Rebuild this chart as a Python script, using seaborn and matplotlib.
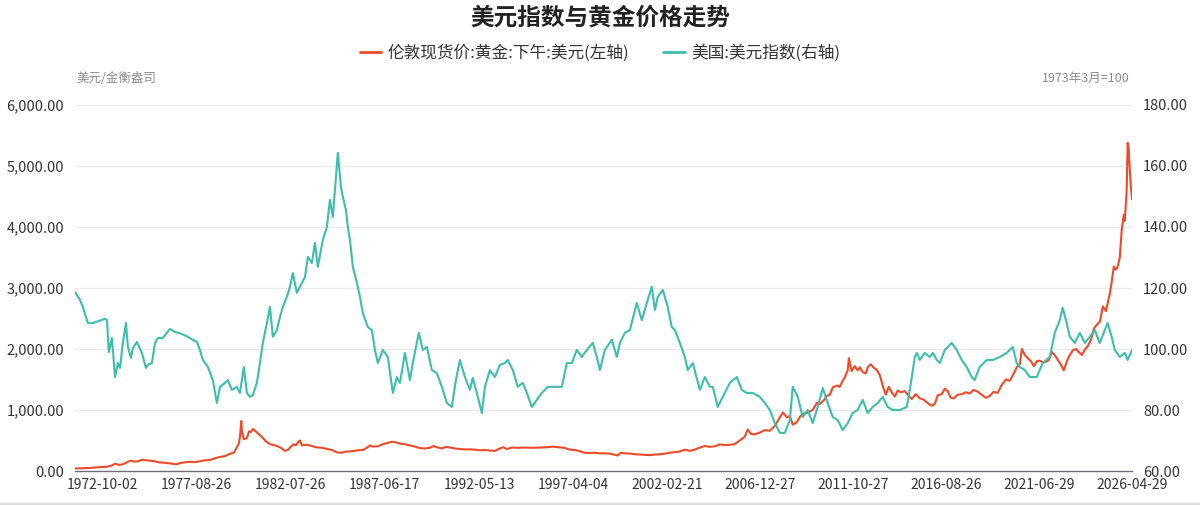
import numpy as np
import pandas as pd
import matplotlib
matplotlib.use("Agg")
import matplotlib.pyplot as plt
from matplotlib.lines import Line2D
from matplotlib.ticker import FuncFormatter
import seaborn as sns

# values (decimal year -> value)
gold_year = [
    1971.35, 1972.13, 1972.60, 1973.01, 1973.27, 1973.43, 1973.63, 1973.84, 1974.10, 1974.26,
    1974.42, 1974.63, 1974.83, 1975.09, 1975.40, 1975.77, 1976.03, 1976.29, 1976.60, 1976.91,
    1977.22, 1977.59, 1977.85, 1978.10, 1978.37, 1978.63, 1978.89, 1979.15, 1979.40, 1979.61,
    1979.77, 1979.87, 1979.93, 1980.00, 1980.03, 1980.13, 1980.29, 1980.40, 1980.50, 1980.60,
    1980.71, 1980.86, 1981.07, 1981.27, 1981.49, 1981.64, 1981.85, 1982.06, 1982.27, 1982.42,
    1982.58, 1982.74, 1982.84, 1982.94, 1983.05, 1983.15, 1983.36, 1983.56, 1983.88, 1984.19,
    1984.50, 1984.76, 1984.97, 1985.18, 1985.49, 1985.75, 1986.06, 1986.32, 1986.53, 1986.69,
    1986.84, 1987.10, 1987.36, 1987.62, 1987.83, 1988.04, 1988.25, 1988.51, 1988.77, 1989.03,
    1989.29, 1989.55, 1989.80, 1990.00, 1990.17, 1990.43, 1990.64, 1990.85, 1991.11, 1991.37,
    1991.63, 1991.89, 1992.15, 1992.41, 1992.67, 1992.93, 1993.19, 1993.45, 1993.61, 1993.81,
    1994.07, 1994.38, 1994.75, 1995.11, 1995.53, 1995.94, 1996.20, 1996.46, 1996.82, 1997.08,
    1997.34, 1997.60, 1997.86, 1998.12, 1998.38, 1998.64, 1998.90, 1999.16, 1999.37, 1999.58,
    1999.74, 1999.95, 2000.21, 2000.47, 2000.73, 2000.99, 2001.25, 2001.51, 2001.77, 2002.03,
    2002.29, 2002.55, 2002.81, 2003.07, 2003.33, 2003.58, 2003.85, 2004.11, 2004.37, 2004.63,
    2004.89, 2005.15, 2005.41, 2005.66, 2005.92, 2006.18, 2006.34, 2006.50, 2006.70, 2006.97,
    2007.23, 2007.49, 2007.75, 2008.01, 2008.17, 2008.38, 2008.53, 2008.68, 2008.89, 2009.05,
    2009.20, 2009.41, 2009.72, 2009.93, 2010.09, 2010.30, 2010.45, 2010.61, 2010.76, 2010.97,
    2011.12, 2011.28, 2011.38, 2011.54, 2011.60, 2011.74, 2011.90, 2012.06, 2012.17, 2012.32,
    2012.48, 2012.58, 2012.74, 2012.90, 2013.05, 2013.21, 2013.36, 2013.52, 2013.67, 2013.83,
    2013.99, 2014.14, 2014.30, 2014.51, 2014.72, 2014.87, 2015.08, 2015.29, 2015.50, 2015.71,
    2015.91, 2016.07, 2016.22, 2016.43, 2016.59, 2016.74, 2016.90, 2017.05, 2017.26, 2017.47,
    2017.68, 2017.88, 2018.09, 2018.30, 2018.51, 2018.72, 2018.93, 2019.13, 2019.34, 2019.55,
    2019.76, 2019.97, 2020.18, 2020.33, 2020.49, 2020.60, 2020.75, 2020.91, 2021.07, 2021.22,
    2021.38, 2021.53, 2021.69, 2021.85, 2022.00, 2022.16, 2022.31, 2022.47, 2022.63, 2022.78,
    2022.94, 2023.09, 2023.25, 2023.41, 2023.56, 2023.72, 2023.87, 2024.03, 2024.19, 2024.34,
    2024.50, 2024.66, 2024.81, 2024.97, 2025.06, 2025.17, 2025.27, 2025.38, 2025.48, 2025.58,
    2025.69, 2025.79, 2025.90, 2025.95, 2026.00, 2026.05, 2026.10, 2026.15, 2026.20, 2026.26,
    2026.33,
]
gold_price = [
    42, 50, 63, 70, 90, 120, 100, 110, 150, 170,
    155, 160, 185, 175, 165, 140, 135, 125, 110, 135,
    150, 145, 160, 175, 180, 210, 230, 245, 280, 300,
    390, 450, 560, 820, 650, 520, 540, 650, 640, 690,
    660, 620, 560, 490, 440, 430, 410, 380, 330, 345,
    400, 440, 420, 470, 500, 420, 430, 420, 390, 380,
    360, 340, 305, 300, 320, 325, 340, 345, 380, 420,
    400, 405, 440, 460, 480, 470, 450, 440, 420, 400,
    375, 370, 380, 410, 390, 370, 395, 385, 370, 360,
    355, 355, 350, 340, 345, 335, 330, 370, 390, 360,
    385, 380, 385, 380, 385, 390, 400, 390, 380, 350,
    345, 325, 300, 295, 300, 290, 290, 285, 270, 255,
    300, 290, 285, 275, 270, 265, 260, 270, 275, 285,
    300, 310, 320, 350, 330, 350, 385, 410, 395, 405,
    435, 425, 430, 440, 500, 560, 680, 610, 600, 630,
    670, 660, 740, 880, 960, 880, 900, 760, 800, 885,
    940, 950, 1000, 1115, 1100, 1160, 1230, 1250, 1370, 1400,
    1380, 1480, 1530, 1650, 1850, 1640, 1720, 1650, 1700, 1620,
    1600, 1700, 1750, 1690, 1660, 1570, 1400, 1250, 1380, 1290,
    1220, 1320, 1290, 1310, 1230, 1180, 1260, 1190, 1170, 1110,
    1070, 1100, 1240, 1260, 1350, 1310, 1200, 1190, 1250, 1260,
    1290, 1270, 1330, 1300, 1250, 1200, 1230, 1300, 1280, 1410,
    1500, 1480, 1600, 1700, 1750, 2000, 1900, 1850, 1800, 1720,
    1800, 1810, 1780, 1790, 1820, 1950, 1900, 1820, 1740, 1650,
    1800, 1900, 1980, 2000, 1950, 1900, 1990, 2050, 2150, 2330,
    2400, 2450, 2700, 2620, 2750, 2900, 3100, 3350, 3300, 3350,
    3500, 3950, 4200, 4100, 4350, 4600, 5380, 5300, 5000, 4700,
    4450,
]

dxy_year = [
    1971.35, 1971.61, 1971.76, 1972.02, 1972.28, 1972.91, 1973.01, 1973.11, 1973.27, 1973.43,
    1973.58, 1973.69, 1973.84, 1974.00, 1974.10, 1974.26, 1974.36, 1974.57, 1974.83, 1975.04,
    1975.14, 1975.35, 1975.51, 1975.66, 1975.92, 1976.29, 1976.55, 1976.91, 1977.22, 1977.48,
    1977.69, 1977.85, 1978.00, 1978.26, 1978.52, 1978.73, 1978.89, 1979.15, 1979.30, 1979.51,
    1979.77, 1979.93, 1980.13, 1980.29, 1980.45, 1980.60, 1980.81, 1980.97, 1981.12, 1981.33,
    1981.49, 1981.64, 1981.85, 1982.01, 1982.16, 1982.37, 1982.53, 1982.68, 1982.89, 1983.05,
    1983.31, 1983.46, 1983.67, 1983.83, 1983.98, 1984.24, 1984.45, 1984.61, 1984.76, 1984.87,
    1985.02, 1985.18, 1985.28, 1985.44, 1985.54, 1985.65, 1985.80, 1986.01, 1986.17, 1986.32,
    1986.58, 1986.79, 1986.95, 1987.10, 1987.36, 1987.62, 1987.88, 1988.09, 1988.25, 1988.51,
    1988.77, 1988.92, 1989.23, 1989.44, 1989.65, 1989.91, 1990.17, 1990.43, 1990.69, 1990.95,
    1991.16, 1991.37, 1991.63, 1991.89, 1992.04, 1992.30, 1992.51, 1992.67, 1992.93, 1993.19,
    1993.45, 1993.71, 1993.86, 1994.12, 1994.38, 1994.64, 1994.85, 1995.11, 1995.37, 1995.63,
    1995.94, 1996.31, 1996.67, 1996.93, 1997.19, 1997.45, 1997.71, 1997.97, 1998.28, 1998.49,
    1998.65, 1998.91, 1999.27, 1999.53, 1999.69, 1999.95, 2000.21, 2000.57, 2000.83, 2001.09,
    2001.35, 2001.51, 2001.66, 2001.92, 2002.18, 2002.39, 2002.55, 2002.81, 2003.07, 2003.22,
    2003.48, 2003.85, 2004.11, 2004.37, 2004.52, 2004.78, 2005.04, 2005.41, 2005.77, 2006.03,
    2006.29, 2006.60, 2006.97, 2007.23, 2007.49, 2007.75, 2008.01, 2008.27, 2008.53, 2008.68,
    2008.94, 2009.20, 2009.46, 2009.72, 2009.98, 2010.24, 2010.50, 2010.76, 2011.02, 2011.28,
    2011.54, 2011.80, 2012.06, 2012.32, 2012.58, 2012.84, 2013.10, 2013.36, 2013.62, 2013.88,
    2014.25, 2014.61, 2014.77, 2015.03, 2015.14, 2015.29, 2015.55, 2015.81, 2015.97, 2016.17,
    2016.33, 2016.59, 2016.95, 2017.21, 2017.47, 2017.73, 2017.99, 2018.14, 2018.40, 2018.77,
    2019.08, 2019.45, 2019.81, 2020.12, 2020.33, 2020.49, 2020.75, 2021.01, 2021.37, 2021.68,
    2022.05, 2022.31, 2022.57, 2022.72, 2022.93, 2023.09, 2023.35, 2023.61, 2023.87, 2024.13,
    2024.39, 2024.65, 2024.91, 2025.06, 2025.27, 2025.43, 2025.69, 2025.95, 2026.10, 2026.33,
]
dxy_value = [
    118.7, 116.1, 113.8, 108.5, 108.5, 109.9, 109.5, 99.0, 103.6, 90.8,
    95.4, 93.8, 102.0, 108.5, 100.7, 97.1, 100.3, 102.3, 98.7, 93.8,
    94.8, 95.4, 102.0, 103.6, 103.6, 106.6, 105.6, 104.9, 104.0, 103.0,
    102.3, 99.7, 96.4, 94.1, 89.8, 82.3, 87.6, 88.9, 89.8, 86.6,
    87.6, 85.6, 94.1, 85.6, 84.3, 84.9, 88.9, 95.4, 102.0, 108.5,
    113.8, 104.0, 106.2, 110.5, 113.8, 117.1, 120.4, 124.9, 118.4, 120.4,
    123.6, 130.2, 128.2, 134.8, 126.9, 135.8, 140.0, 148.9, 143.3, 152.2,
    164.3, 153.2, 149.9, 145.6, 140.0, 135.8, 126.9, 121.7, 117.1, 111.8,
    107.2, 106.2, 99.7, 95.4, 99.7, 97.4, 85.6, 90.8, 88.9, 98.7,
    89.8, 95.4, 105.3, 99.7, 100.7, 93.1, 92.1, 87.6, 82.3, 81.0,
    89.8, 96.4, 90.8, 86.6, 90.5, 84.3, 79.0, 87.6, 93.1, 90.8,
    94.8, 95.4, 96.4, 93.1, 87.6, 88.9, 85.6, 81.0, 83.3, 85.6,
    87.6, 87.6, 87.6, 95.4, 95.4, 99.7, 97.4, 99.7, 102.0, 97.4,
    93.1, 99.7, 103.0, 97.4, 102.0, 105.3, 106.2, 115.1, 109.5, 115.1,
    120.4, 112.8, 117.1, 119.4, 113.8, 107.2, 106.2, 102.0, 97.4, 93.1,
    95.4, 86.6, 90.8, 87.6, 87.6, 81.0, 84.3, 88.9, 90.8, 86.6,
    85.6, 85.6, 84.3, 82.3, 80.0, 75.7, 72.5, 72.5, 76.7, 87.6,
    84.3, 77.7, 80.0, 75.7, 81.0, 87.2, 82.3, 77.7, 76.7, 73.4,
    75.7, 79.0, 80.0, 83.3, 79.0, 81.0, 82.3, 84.3, 81.0, 80.0,
    80.0, 81.0, 86.6, 97.4, 98.7, 96.4, 98.7, 97.4, 98.7, 96.4,
    95.4, 99.7, 102.0, 99.7, 96.4, 94.1, 90.8, 89.8, 94.1, 96.4,
    96.4, 97.4, 98.7, 100.7, 95.4, 94.1, 93.1, 90.8, 90.8, 95.4,
    97.4, 105.3, 109.5, 113.5, 108.5, 104.0, 102.0, 105.3, 102.0, 104.0,
    106.2, 102.0, 106.2, 108.5, 104.0, 99.7, 97.4, 98.7, 96.4, 99.7,
]

xtick_labels = ["1972-10-02", "1977-08-26", "1982-07-26", "1987-06-17", "1992-05-13", "1997-04-04",
                "2002-02-21", "2006-12-27", "2011-10-27", "2016-08-26", "2021-06-29", "2026-04-29"]
left_ticks = [0, 1000, 2000, 3000, 4000, 5000, 6000]
right_ticks = [60, 80, 100, 120, 140, 160, 180]

title = "美元指数与黄金价格走势"
gold_name = "伦敦现货价:黄金:下午:美元(左轴)"
dxy_name = "美国:美元指数(右轴)"

RED = "#ee4a2a"
TEAL = "#3dbdad"


def to_dates(years):
    years = np.asarray(years, dtype=float)
    return pd.Timestamp("1970-01-01") + pd.to_timedelta((years - 1970) * 365.2425, unit="D")


gold = pd.DataFrame({"date": to_dates(gold_year), "price": gold_price})
dxy = pd.DataFrame({"date": to_dates(dxy_year), "value": dxy_value})

sns.set_theme(style="white")
plt.rcParams["font.family"] = ["Noto Sans CJK SC", "DejaVu Sans"]

fig = plt.figure(figsize=(12, 5.05), dpi=100)
ax = fig.add_axes([0.0625, 0.0673, 0.8808, 0.7248])
ax2 = ax.twinx()

sns.lineplot(data=gold, x="date", y="price", ax=ax, color=RED, linewidth=1.5, legend=False)
sns.lineplot(data=dxy, x="date", y="value", ax=ax2, color=TEAL, linewidth=1.5, legend=False)

# axes ranges
ax.set_xlim(to_dates([1971.35])[0], pd.Timestamp("2026-04-29"))
ax.set_ylim(0, 6000)
ax2.set_ylim(60, 180)
ax.set_yticks(left_ticks)
ax2.set_yticks(right_ticks)
ax.yaxis.set_major_formatter(FuncFormatter(lambda v, p: f"{v:,.2f}"))
ax2.yaxis.set_major_formatter(FuncFormatter(lambda v, p: f"{v:.2f}"))
ax.set_xticks(pd.to_datetime(xtick_labels))
ax.set_xticklabels(xtick_labels)

ax.set_xlabel("")
ax.set_ylabel("")
ax2.set_ylabel("")

ax.grid(axis="y", color="#e9e9e9", linewidth=0.9)
ax.grid(axis="x", visible=False)
for s in ["top", "left", "right"]:
    ax.spines[s].set_visible(False)
    ax2.spines[s].set_visible(False)
ax2.spines["bottom"].set_visible(False)
ax.spines["bottom"].set_color("#6e7079")
ax.spines["bottom"].set_linewidth(1.0)

ax.tick_params(axis="y", length=0, pad=8, labelsize=10.5, labelcolor="#333333")
ax2.tick_params(axis="y", length=0, pad=8, labelsize=10.5, labelcolor="#333333")
ax.tick_params(axis="x", length=0, pad=5, labelsize=10, labelcolor="#333333")

# title, legend, unit labels
fig.text(0.5, 1 - 18 / 505, title, ha="center", va="center", fontsize=17, fontweight="bold", color="#222222")
handles = [Line2D([], [], color=RED, linewidth=2), Line2D([], [], color=TEAL, linewidth=2)]
fig.legend(handles, [gold_name, dxy_name], loc="center", bbox_to_anchor=(0.5, 1 - 53 / 505), ncol=2,
           frameon=False, fontsize=12, handlelength=1.3, handletextpad=0.4, columnspacing=2.0,
           labelcolor="#333333")
fig.text(76 / 1200, 1 - 78 / 505, "美元/金衡盎司", ha="left", va="center", fontsize=9, color="#8a8a8a")
fig.text(1130 / 1200, 1 - 78 / 505, "1973年3月=100", ha="right", va="center", fontsize=9, color="#8a8a8a")

# thin grey strip at the bottom edge like the source screenshot
fig.add_artist(Line2D([0, 1], [1.5 / 505, 1.5 / 505], color="#dcdcdc", linewidth=2.5))

fig.savefig("out.png", dpi=100)
